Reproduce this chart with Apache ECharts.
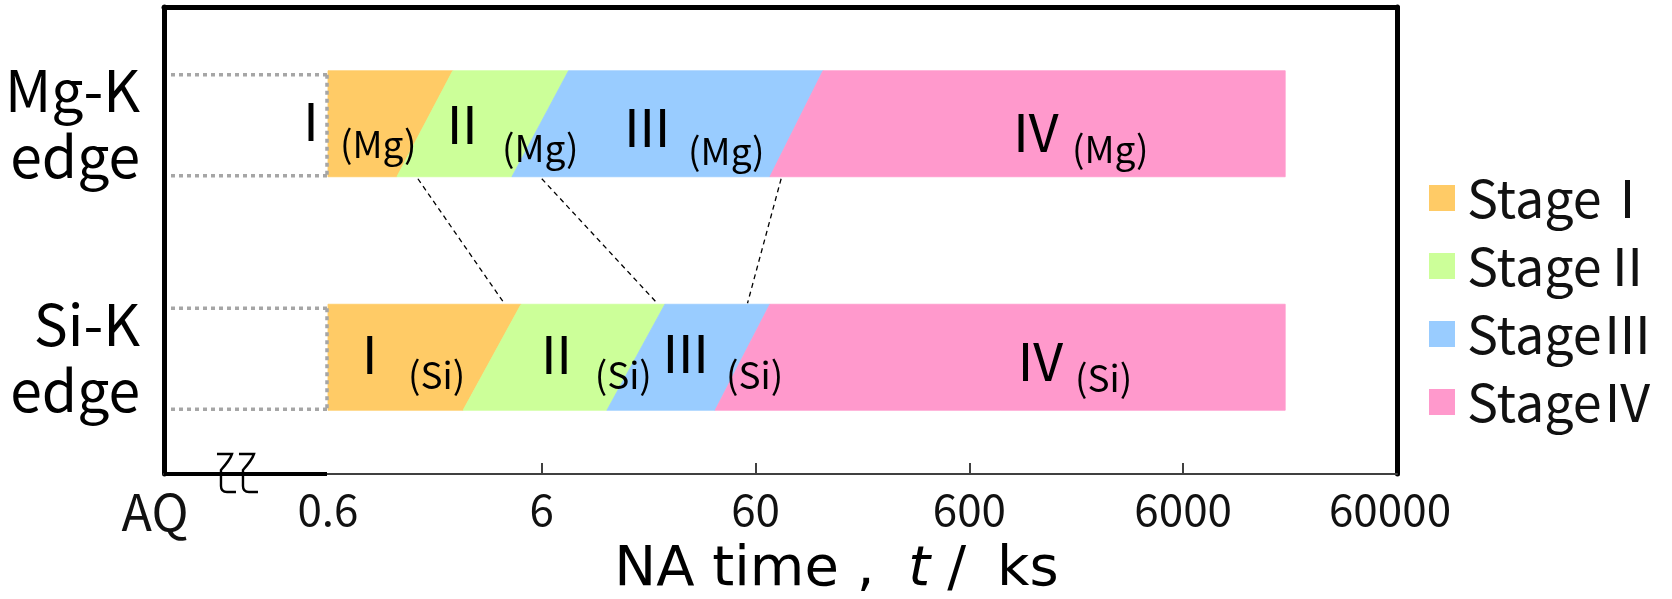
<!DOCTYPE html>
<html>
<head>
<meta charset="utf-8">
<script src="https://cdn.jsdelivr.net/npm/echarts@6/dist/echarts.min.js"></script>
<style>
  html, body { margin: 0; padding: 0; background: #ffffff; }
  #chart { width: 1672px; height: 599px; }
</style>
</head>
<body>
<div id="chart"></div>
<script>
// ---- data ----
const rows = ['Mg-K\nedge', 'Si-K\nedge'];
const stageNames = ['StageⅠ', 'StageⅡ', 'StageⅢ', 'StageⅣ'];
const naStart = 0.6;     // first NA time, ks
const naEnd = 18000;     // last NA time, ks
// stage transition times (ks) read at the upper and lower edge of each bar
const mgBoundaryTop = [2.3, 8.0, 124];
const mgBoundaryBottom = [1.26, 4.35, 70];
const siBoundaryTop = [4.8, 22.6, 70];
const siBoundaryBottom = [2.57, 12.1, 38.8];
// corresponding transitions, Mg-K time -> Si-K time (ks)
const transitionLinks = [[1.58, 4.0], [6.0, 20.8], [79, 55]];
// as-quenched state sits at the start of the broken axis
const aqPosition = 0.1026;
const tickValues = [aqPosition, 0.6, 6, 60, 600, 6000, 60000];
const tickLabels = ['AQ', '0.6', '6', '60', '600', '6000', '60000'];
const tickMarks = [6, 60, 600, 6000];
const numerals = ['Ⅰ', 'Ⅱ', 'Ⅲ', 'Ⅳ'];
const elementTags = ['(Mg)', '(Si)'];
// where each stage's numeral and element tag are written (ks)
const numeralAt = [[0.5, 2.55, 18.7, 1230], [0.94, 7.03, 28.3, 1292]];
const tagAt = [[0.683, 3.91, 29.0, 1812], [1.42, 10.6, 43.6, 1871]];

// ---- style ----
const FONT = '"Noto Sans CJK JP", "Noto Sans", sans-serif';
const TITLE_FONT = '"DejaVu Sans", "Noto Sans", sans-serif';
const stageColors = ['#FFCB66', '#CCFF99', '#99CCFF', '#FF99CC'];
const BAR_HALF = 0.227;          // half bar height as a fraction of the row band
// vertical nudges (px) of the numerals and tags from the row centre
const NUMERAL_DY = [[-3, 0.5, 3.5, 8], [-3, -3, -4.5, 4]];
const TAG_DY = [[20, 24, 27, 25], [18, 18, 18, 21]];

const boundaries = [
  { top: mgBoundaryTop, bottom: mgBoundaryBottom },
  { top: siBoundaryTop, bottom: siBoundaryBottom }
];

function stageData(s) {
  return rows.map((_, r) => {
    const b = boundaries[r];
    const lt = s === 0 ? naStart : b.top[s - 1];
    const lb = s === 0 ? naStart : b.bottom[s - 1];
    const rt = s === 3 ? naEnd : b.top[s];
    const rb = s === 3 ? naEnd : b.bottom[s];
    return [r, lt, lb, rt, rb];
  });
}

function rowGeom(api, row) {
  const y0 = api.coord([naStart, 0])[1];
  const y1 = api.coord([naStart, 1])[1];
  const band = Math.abs(y1 - y0);
  const yc = api.coord([naStart, row])[1];
  return { yc: yc, band: band, half: band * BAR_HALF };
}

function renderStage(params, api) {
  const row = api.value(0);
  const g = rowGeom(api, row);
  const x = v => api.coord([v, row])[0];
  const color = api.visual('color');
  return {
    type: 'polygon',
    shape: { points: [
      [x(api.value(1)), g.yc - g.half],
      [x(api.value(3)), g.yc - g.half],
      [x(api.value(4)), g.yc + g.half],
      [x(api.value(2)), g.yc + g.half]
    ] },
    style: { fill: color, stroke: color, lineWidth: 0.8 }
  };
}

const stageSeries = stageNames.map((name, s) => ({
  type: 'custom',
  name: name,
  coordinateSystem: 'cartesian2d',
  itemStyle: { color: stageColors[s] },
  encode: { x: [1, 2, 3, 4], y: 0 },
  renderItem: renderStage,
  data: stageData(s),
  z: 2,
  silent: true
}));

// stage labels: numeral + element tag
const labelItems = [];
rows.forEach((_, r) => {
  numerals.forEach((n, s) => {
    labelItems.push({ value: [numeralAt[r][s], r], text: n, kind: 0, stage: s });
    labelItems.push({ value: [tagAt[r][s], r], text: elementTags[r], kind: 1, stage: s });
  });
});

const labelSeries = {
  type: 'custom',
  coordinateSystem: 'cartesian2d',
  clip: false,
  silent: true,
  z: 5,
  encode: { x: 0, y: 1 },
  data: labelItems.map(d => d.value),
  renderItem: function (params, api) {
    const item = labelItems[params.dataIndex];
    const row = item.value[1];
    const g = rowGeom(api, row);
    const px = api.coord([item.value[0], row])[0];
    if (item.kind === 0) {
      return { type: 'text', x: px, y: g.yc + NUMERAL_DY[row][item.stage],
        style: { text: item.text, fontSize: 52, fontFamily: FONT, fill: '#000',
                 align: 'center', verticalAlign: 'middle' } };
    }
    return { type: 'text', x: px, y: g.yc + TAG_DY[row][item.stage],
      style: { text: item.text, fontSize: 37, fontFamily: FONT, fill: '#000',
               align: 'left', verticalAlign: 'middle' } };
  }
};

// broken-axis segment, empty AQ boxes and transition links
const frameSeries = {
  type: 'custom',
  coordinateSystem: 'cartesian2d',
  clip: false,
  silent: true,
  z: 6,
  encode: { x: 0, y: 1 },
  data: [[naStart, 0]],
  renderItem: function (params, api) {
    const children = [];
    const g0 = rowGeom(api, 0);
    const g1 = rowGeom(api, 1);
    const xAQ = api.coord([aqPosition, 0])[0];
    const xStart = api.coord([naStart, 0])[0];
    const yAxisLine = g1.yc + g1.band / 2;

    // thick axis line over the AQ part
    children.push({ type: 'line', shape: { x1: xAQ, y1: yAxisLine, x2: xStart - 1, y2: yAxisLine },
      style: { stroke: '#000', lineWidth: 4 } });

    // axis break marks
    const xb = api.coord([0.2, 0])[0];
    [xb - 9, xb + 13].forEach(bx => {
      const t = yAxisLine - 20, b = yAxisLine + 18;
      children.push({ type: 'path',
        shape: { pathData: 'M' + bx + ',' + t + ' L' + (bx + 15) + ',' + t +
          ' Q' + (bx + 13) + ',' + (t + 6) + ' ' + (bx + 4) + ',' + (t + 16) +
          ' L' + (bx + 4) + ',' + (b - 6) +
          ' Q' + (bx + 4) + ',' + b + ' ' + (bx + 10) + ',' + b +
          ' L' + (bx + 19) + ',' + b },
        style: { stroke: '#000', lineWidth: 2.4, fill: 'none' } });
    });

    // dotted outline of the AQ state for each row
    [g0, g1].forEach(g => {
      const yt = g.yc - g.half + 4, yb = g.yc + g.half - 1;
      const dot = { stroke: '#A6A6A6', lineWidth: 3.5, lineDash: [4, 4] };
      children.push({ type: 'line', shape: { x1: xAQ + 7, y1: yt, x2: xStart - 1, y2: yt }, style: dot });
      children.push({ type: 'line', shape: { x1: xAQ + 7, y1: yb, x2: xStart - 1, y2: yb }, style: dot });
      children.push({ type: 'line', shape: { x1: xStart - 1, y1: yt, x2: xStart - 1, y2: yb }, style: dot });
    });

    // dashed links between matching Mg and Si transitions
    transitionLinks.forEach(l => {
      children.push({ type: 'line',
        shape: { x1: api.coord([l[0], 0])[0], y1: g0.yc + g0.half + 2,
                 x2: api.coord([l[1], 1])[0], y2: g1.yc - g1.half - 1 },
        style: { stroke: '#000', lineWidth: 1.3, lineDash: [5, 4] } });
    });
    return { type: 'group', children: children };
  }
};

function tickIndex(v) {
  let best = 0, bestD = Infinity;
  tickValues.forEach((t, i) => {
    const d = Math.abs(Math.log10(t) - Math.log10(v));
    if (d < bestD) { bestD = d; best = i; }
  });
  return best;
}

const chart = echarts.init(document.getElementById('chart'), null, { renderer: 'canvas' });
chart.setOption({
  animation: false,
  backgroundColor: '#ffffff',
  textStyle: { fontFamily: FONT },
  grid: { left: 164, right: 275, top: 7, bottom: 125, containLabel: false, outerBoundsMode: 'none' },
  legend: {
    orient: 'vertical', left: 1424, top: 163,
    itemWidth: 26, itemHeight: 26, itemGap: 8, icon: 'rect',
    selectedMode: false,
    data: stageNames,
    textStyle: { fontSize: 52, lineHeight: 60, color: '#111', fontFamily: FONT, padding: [0, 0, 0, 7] }
  },
  xAxis: [{
    type: 'log', logBase: 10, min: aqPosition, max: 60000, position: 'bottom',
    axisLine: { show: true, lineStyle: { color: '#404040', width: 2 } },
    axisTick: { show: true, inside: true, length: 11, customValues: tickMarks,
                lineStyle: { color: '#404040', width: 2 } },
    axisLabel: {
      customValues: tickValues,
      fontSize: 44, color: '#111', margin: 13, fontFamily: FONT,
      formatter: function (v) {
        const i = tickIndex(v);
        if (i === 0) return '{aq|' + tickLabels[i] + '}';
        if (i === tickLabels.length - 1) return '{last|' + tickLabels[i] + '}';
        return tickLabels[i];
      },
      rich: {
        aq: { fontSize: 50, fontFamily: FONT, color: '#111', padding: [0, 18, 0, 0] },
        last: { fontSize: 44, fontFamily: FONT, color: '#111', padding: [0, 14, 0, 0] }
      }
    },
    splitLine: { show: false },
    name: '{a|NA time , }{i|t}{s|/}{a|ks}',
    nameLocation: 'middle', nameGap: 68,
    nameTextStyle: {
      fontSize: 56, color: '#000', fontFamily: TITLE_FONT, padding: [0, 0, 0, 112],
      rich: {
        a: { fontSize: 56, fontFamily: TITLE_FONT, color: '#000' },
        i: { fontSize: 56, fontFamily: TITLE_FONT, color: '#000', fontStyle: 'italic', padding: [0, 17, 0, 16] },
        s: { fontSize: 56, fontFamily: TITLE_FONT, color: '#000', padding: [0, 31, 0, 0] }
      }
    }
  }, {
    type: 'log', logBase: 10, min: aqPosition, max: 60000, position: 'top',
    axisLine: { show: true, lineStyle: { color: '#000', width: 5 } },
    axisTick: { show: false }, axisLabel: { show: false }, splitLine: { show: false }
  }],
  yAxis: [{
    type: 'category', data: rows, inverse: true, position: 'left',
    axisLine: { show: true, lineStyle: { color: '#000', width: 5 } },
    axisTick: { show: false },
    axisLabel: { fontSize: 57, lineHeight: 66, color: '#000', margin: 24, align: 'right', fontFamily: FONT },
    splitLine: { show: false }
  }, {
    type: 'category', data: rows, inverse: true, position: 'right',
    axisLine: { show: true, lineStyle: { color: '#000', width: 5 } },
    axisTick: { show: false }, axisLabel: { show: false }, splitLine: { show: false }
  }],
  series: stageSeries.concat([labelSeries, frameSeries])
});
</script>
</body>
</html>
